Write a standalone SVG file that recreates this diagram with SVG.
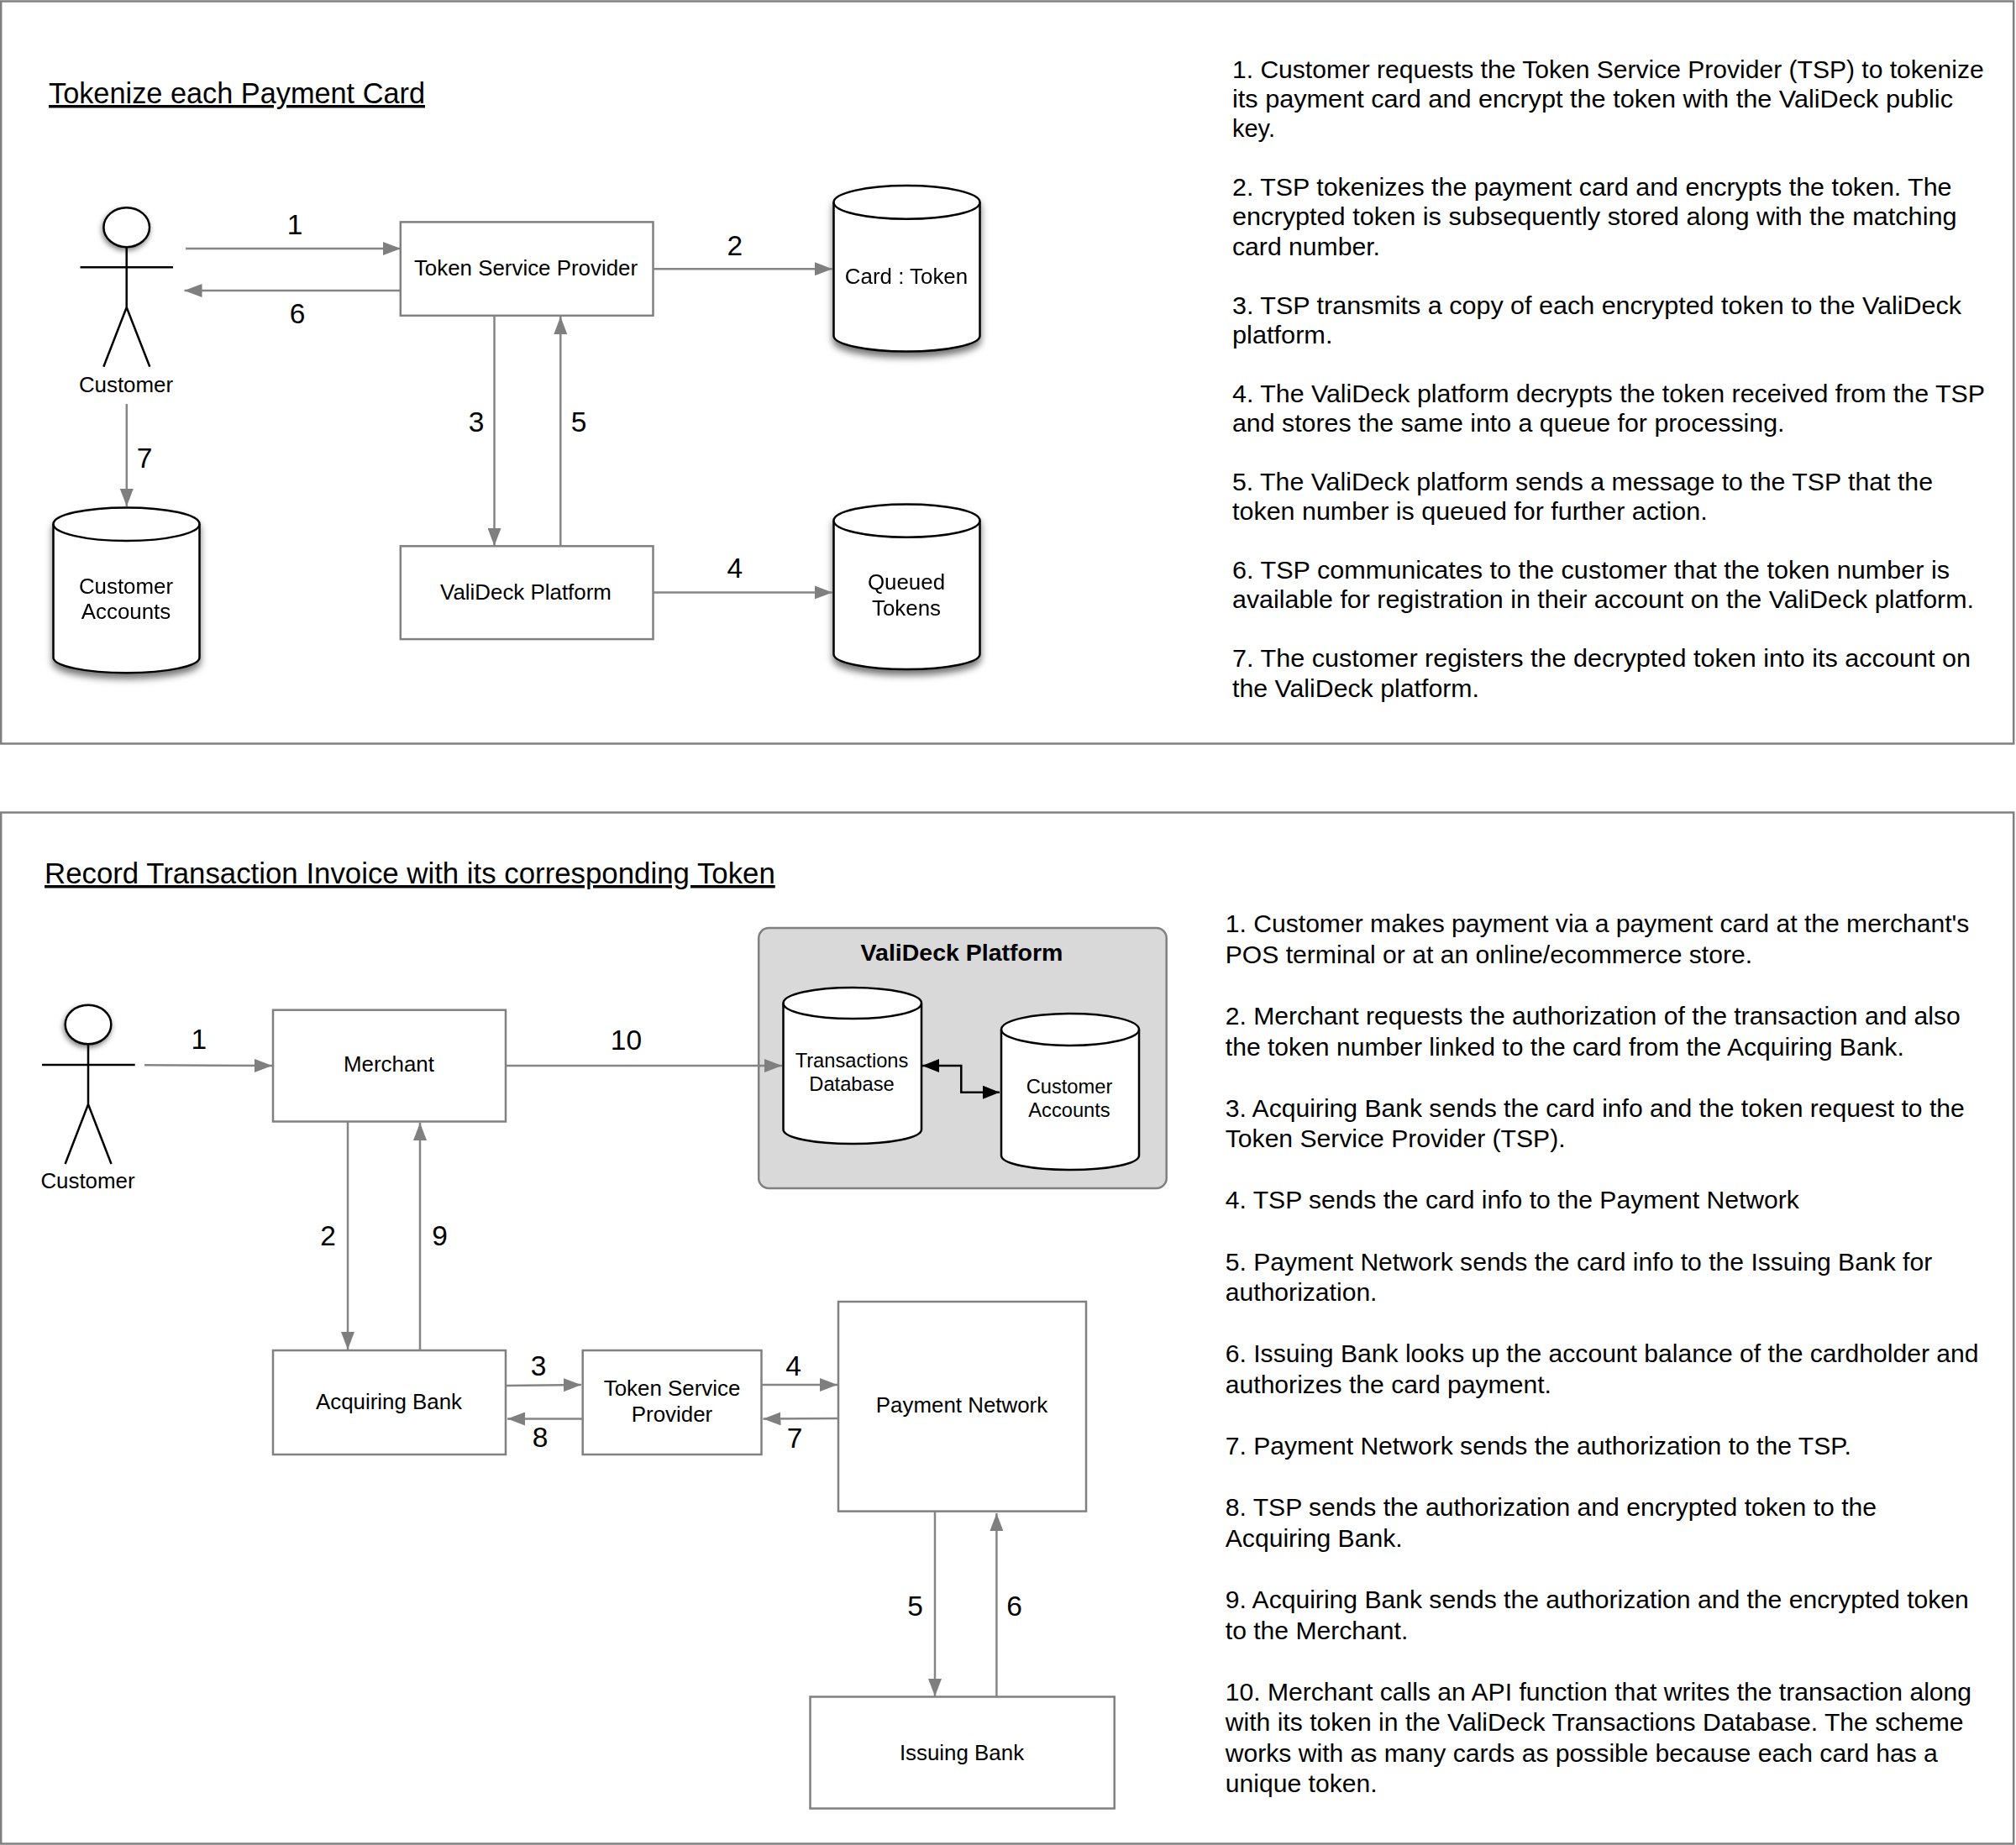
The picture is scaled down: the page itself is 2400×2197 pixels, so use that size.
<svg xmlns="http://www.w3.org/2000/svg" width="2400" height="2197" viewBox="0 0 2400 2197">
<style>
text{font-family:"Liberation Sans",Arial,sans-serif;fill:#000}
.panel{fill:#fff;stroke:#808080;stroke-width:2.5}
.box{fill:#fff;stroke:#808080;stroke-width:2.5}
.t{font-size:25.9px;text-anchor:middle}
.s{font-size:23.7px;text-anchor:middle}
.n{font-size:33.5px;text-anchor:middle}
.h{text-decoration:underline}
.p{font-size:30.1px}
.q{font-size:30.4px}
.fig{fill:none;stroke:#000;stroke-width:2.5}
.head{fill:#fff;stroke:#000;stroke-width:2.5;filter:url(#shh)}
.cyl{fill:#fff;stroke:#000;stroke-width:2.5;stroke-linejoin:round}
.cylt{fill:none;stroke:#000;stroke-width:2.5}
.c{fill:none;stroke:#858585;stroke-width:2.5;marker-end:url(#ah)}
.d{fill:none;stroke:#000;stroke-width:2.5;marker-start:url(#bh);marker-end:url(#bh)}
</style>
<defs>
<marker id="ah" markerUnits="userSpaceOnUse" markerWidth="21" markerHeight="16" refX="21" refY="8" orient="auto"><path d="M0 0L21 8L0 16Z" fill="#7f7f7f"/></marker>
<marker id="bh" markerUnits="userSpaceOnUse" markerWidth="20" markerHeight="16" refX="20" refY="8" orient="auto-start-reverse"><path d="M0 0L20 8L0 16Z" fill="#000"/></marker>
<filter id="sh" x="-20%" y="-20%" width="140%" height="140%"><feDropShadow dx="0" dy="6" stdDeviation="4" flood-color="#000" flood-opacity="0.55"/></filter>
<filter id="shh" x="-30%" y="-30%" width="160%" height="170%"><feDropShadow dx="-1" dy="3" stdDeviation="3" flood-color="#000" flood-opacity="0.5"/></filter>
</defs>
<rect width="2400" height="2197" fill="#fff"/>
<g id="panel-top"><rect class="panel" x="1.2" y="1.5" width="2396" height="884"/></g>
<g id="panel-bottom"><rect class="panel" x="1.2" y="967.5" width="2396" height="1228"/></g>

<text id="title-top" class="h" x="58" y="123" font-size="34.3">Tokenize each Payment Card</text>
<text id="title-bottom" class="h" x="53" y="1052" font-size="34.8">Record Transaction Invoice with its corresponding Token</text>

<g id="customer-top">
<ellipse class="head" cx="150.700" cy="270.700" rx="27.300" ry="23.500"/>
<path class="fig" d="M95.500 318.300H206M150.700 294.200V366M123.300 436.700L150.700 366L178.300 436.700"/>
<text class="t" x="150" y="466.500">Customer</text>
</g>
<g id="tsp-top"><rect class="box" x="476.800" y="264.400" width="300.700" height="111.400"/><text class="t" x="626" y="328">Token Service Provider</text></g>
<g id="valideck-platform-top"><rect class="box" x="476.800" y="650.300" width="300.700" height="110.800"/><text class="t" x="626" y="713.600">ValiDeck Platform</text></g>
<g id="card-token" filter="url(#sh)">
<path class="cyl" d="M992.500 241V400C992.500 410 1031 418.500 1079.500 418.500S1166.500 410 1166.500 400V241C1166.500 230 1128 221 1079.500 221S992.500 230 992.500 241Z"/>
<path class="cylt" d="M992.500 241C992.500 252 1031 260.700 1079.500 260.700S1166.500 252 1166.500 241"/>
<text class="t" x="1079" y="338">Card : Token</text>
</g>
<g id="queued-tokens" filter="url(#sh)">
<path class="cyl" d="M992.500 620V779C992.500 789 1031 797 1079.500 797S1166.500 789 1166.500 779V620C1166.500 609 1128 600.400 1079.500 600.400S992.500 609 992.500 620Z"/>
<path class="cylt" d="M992.500 620C992.500 631 1031 639.700 1079.500 639.700S1166.500 631 1166.500 620"/>
<text class="t" x="1079" y="702">Queued</text><text class="t" x="1079" y="732.600">Tokens</text>
</g>
<g id="customer-accounts-top" filter="url(#sh)">
<path class="cyl" d="M63.500 624V783C63.500 793 102 801.300 150.500 801.300S237.500 793 237.500 783V624C237.500 613 199 604.400 150.500 604.400S63.500 613 63.500 624Z"/>
<path class="cylt" d="M63.500 624C63.500 635 102 644 150.500 644S237.500 635 237.500 624"/>
<text class="t" x="150" y="706.700">Customer</text><text class="t" x="150" y="737.200">Accounts</text>
</g>

<g id="instructions-top" class="q">
<text class="q" x="1467" y="93" textLength="894.700" lengthAdjust="spacingAndGlyphs">1. Customer requests the Token Service Provider (TSP) to tokenize</text>
<text class="q" x="1467" y="128.100" textLength="858" lengthAdjust="spacingAndGlyphs">its payment card and encrypt the token with the ValiDeck public</text>
<text class="q" x="1467" y="163.200" textLength="51" lengthAdjust="spacingAndGlyphs">key.</text>
<text class="q" x="1467" y="233.300" textLength="856.500" lengthAdjust="spacingAndGlyphs">2. TSP tokenizes the payment card and encrypts the token. The</text>
<text class="q" x="1467" y="268.400" textLength="862.600" lengthAdjust="spacingAndGlyphs">encrypted token is subsequently stored along with the matching</text>
<text class="q" x="1467" y="303.500" textLength="176" lengthAdjust="spacingAndGlyphs">card number.</text>
<text class="q" x="1467" y="373.600" textLength="868" lengthAdjust="spacingAndGlyphs">3. TSP transmits a copy of each encrypted token to the ValiDeck</text>
<text class="q" x="1467" y="408.700" textLength="119.500" lengthAdjust="spacingAndGlyphs">platform.</text>
<text class="q" x="1467" y="478.800" textLength="896" lengthAdjust="spacingAndGlyphs">4. The ValiDeck platform decrypts the token received from the TSP</text>
<text class="q" x="1467" y="513.900" textLength="657.500" lengthAdjust="spacingAndGlyphs">and stores the same into a queue for processing.</text>
<text class="q" x="1467" y="584" textLength="834" lengthAdjust="spacingAndGlyphs">5. The ValiDeck platform sends a message to the TSP that the</text>
<text class="q" x="1467" y="619.100" textLength="565.600" lengthAdjust="spacingAndGlyphs">token number is queued for further action.</text>
<text class="q" x="1467" y="689.200" textLength="854" lengthAdjust="spacingAndGlyphs">6. TSP communicates to the customer that the token number is</text>
<text class="q" x="1467" y="724.300" textLength="883" lengthAdjust="spacingAndGlyphs">available for registration in their account on the ValiDeck platform.</text>
<text class="q" x="1467" y="794.400" textLength="879" lengthAdjust="spacingAndGlyphs">7. The customer registers the decrypted token into its account on</text>
<text class="q" x="1467" y="829.500" textLength="294" lengthAdjust="spacingAndGlyphs">the ValiDeck platform.</text>
</g>

<g id="platform-group">
<rect x="903.200" y="1105" width="485.500" height="310" rx="12" fill="#d9d9d9" stroke="#808080" stroke-width="2.5"/>
<text x="1145" y="1144" text-anchor="middle" font-size="28.500" font-weight="700">ValiDeck Platform</text>
</g>
<g id="transactions-db">
<path class="cyl" d="M932.500 1194.500V1345C932.500 1355 969 1362 1014.500 1362S1097 1355 1097 1345V1194.500C1097 1184 1060 1176 1014.500 1176S932.500 1184 932.500 1194.500Z"/>
<path class="cylt" d="M932.500 1194.500C932.500 1205 969 1213 1014.500 1213S1097 1205 1097 1194.500"/>
<text class="s" x="1014" y="1270.500">Transactions</text><text class="s" x="1014" y="1298.500">Database</text>
</g>
<g id="customer-accounts-bottom">
<path class="cyl" d="M1192 1226V1376C1192 1386 1229 1393 1274 1393S1356 1386 1356 1376V1226C1356 1215 1319 1207 1274 1207S1192 1215 1192 1226Z"/>
<path class="cylt" d="M1192 1226C1192 1236 1229 1245 1274 1245S1356 1236 1356 1226"/>
<text class="s" x="1273" y="1302">Customer</text><text class="s" x="1273" y="1330">Accounts</text>
</g>

<g id="customer-bottom">
<ellipse class="head" cx="105" cy="1220" rx="27.300" ry="23.300"/>
<path class="fig" d="M50 1268H160.700M105 1243.300V1315M77.600 1386L105 1315L132.500 1386"/>
<text class="t" x="104.500" y="1414.500">Customer</text>
</g>
<g id="merchant"><rect class="box" x="325" y="1202.700" width="277" height="132.800"/><text class="t" x="463" y="1276">Merchant</text></g>
<g id="acquiring-bank"><rect class="box" x="325" y="1608" width="277" height="124"/><text class="t" x="463" y="1678">Acquiring Bank</text></g>
<g id="tsp-bottom"><rect class="box" x="693.700" y="1608" width="212.800" height="124"/><text class="t" x="800" y="1662">Token Service</text><text class="t" x="800" y="1693">Provider</text></g>
<g id="payment-network"><rect class="box" x="998" y="1550" width="295" height="249.600"/><text class="t" x="1145" y="1682">Payment Network</text></g>
<g id="issuing-bank"><rect class="box" x="964.500" y="2020.500" width="362.200" height="133"/><text class="t" x="1145" y="2095.500">Issuing Bank</text></g>

<g id="instructions-bottom">
<text class="p" x="1458.800" y="1110.200">1. Customer makes payment via a payment card at the merchant's</text>
<text class="p" x="1458.800" y="1146.800">POS terminal or at an online/ecommerce store.</text>
<text class="p" x="1458.800" y="1219.900">2. Merchant requests the authorization of the transaction and also</text>
<text class="p" x="1458.800" y="1256.500">the token number linked to the card from the Acquiring Bank.</text>
<text class="p" x="1458.800" y="1329.600">3. Acquiring Bank sends the card info and the token request to the</text>
<text class="p" x="1458.800" y="1366.200">Token Service Provider (TSP).</text>
<text class="p" x="1458.800" y="1439.400">4. TSP sends the card info to the Payment Network</text>
<text class="p" x="1458.800" y="1512.500">5. Payment Network sends the card info to the Issuing Bank for</text>
<text class="p" x="1458.800" y="1549.100">authorization.</text>
<text class="p" x="1458.800" y="1622.300">6. Issuing Bank looks up the account balance of the cardholder and</text>
<text class="p" x="1458.800" y="1658.800">authorizes the card payment.</text>
<text class="p" x="1458.800" y="1732">7. Payment Network sends the authorization to the TSP.</text>
<text class="p" x="1458.800" y="1805.100">8. TSP sends the authorization and encrypted token to the</text>
<text class="p" x="1458.800" y="1841.700">Acquiring Bank.</text>
<text class="p" x="1458.800" y="1914.900">9. Acquiring Bank sends the authorization and the encrypted token</text>
<text class="p" x="1458.800" y="1951.500">to the Merchant.</text>
<text class="p" x="1458.800" y="2024.600">10. Merchant calls an API function that writes the transaction along</text>
<text class="p" x="1458.800" y="2061.200">with its token in the ValiDeck Transactions Database. The scheme</text>
<text class="p" x="1458.800" y="2097.800">works with as many cards as possible because each card has a</text>
<text class="p" x="1458.800" y="2134.400">unique token.</text>
</g>

<g id="connectors">
<path class="c" d="M221 296H477"/>
<path class="c" d="M476 346H219.500"/>
<path class="c" d="M777.500 320.200H991"/>
<path class="c" d="M588.500 376V650"/>
<path class="c" d="M667.300 650V377"/>
<path class="c" d="M777.500 705.400H991"/>
<path class="c" d="M150.800 481V603"/>
<path class="c" d="M172 1268.300L324 1269"/>
<path class="c" d="M602 1269H931"/>
<path class="c" d="M414 1336V1607"/>
<path class="c" d="M500 1608V1337"/>
<path class="c" d="M602 1650L692 1649"/>
<path class="c" d="M694 1689.500H604"/>
<path class="c" d="M907 1649H997"/>
<path class="c" d="M998 1689L908.500 1689.500"/>
<path class="c" d="M1113 1800V2020"/>
<path class="c" d="M1186.400 2021V1802"/>
<path class="d" d="M1098 1269H1144.300V1300.700H1190"/>
</g>

<g id="edge-labels">
<text class="n" x="351" y="279">1</text>
<text class="n" x="874.700" y="303.500">2</text>
<text class="n" x="567" y="514">3</text>
<text class="n" x="874.700" y="687.500">4</text>
<text class="n" x="689" y="514">5</text>
<text class="n" x="354" y="385">6</text>
<text class="n" x="172" y="556.500">7</text>
<text class="n" x="236.700" y="1249">1</text>
<text class="n" x="390.500" y="1483">2</text>
<text class="n" x="641" y="1638">3</text>
<text class="n" x="944.600" y="1638">4</text>
<text class="n" x="1089.500" y="1923.500">5</text>
<text class="n" x="1207.500" y="1923.500">6</text>
<text class="n" x="946" y="1724">7</text>
<text class="n" x="643" y="1723">8</text>
<text class="n" x="523.500" y="1483">9</text>
<text class="n" x="745.500" y="1249.500">10</text>
</g>
</svg>
